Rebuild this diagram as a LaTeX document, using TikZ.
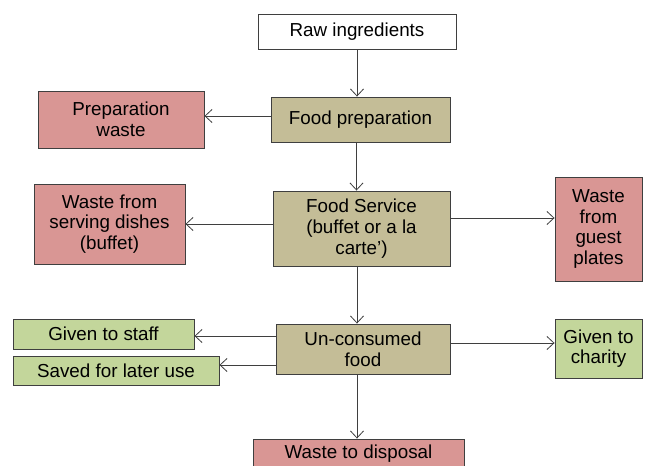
\documentclass[tikz,border=0pt]{standalone}
\usepackage{fontspec}
\setmainfont{Liberation Sans}
\usetikzlibrary{arrows.meta}

\definecolor{stagefill}{HTML}{C4BD97}
\definecolor{wastefill}{HTML}{D99694}
\definecolor{reusefill}{HTML}{C3D69B}
\definecolor{linegray}{HTML}{3F3F3F}

\begin{document}
\begin{tikzpicture}[
		x=1pt, y=-1pt,
		every node/.style={font=\fontsize{18.8}{20.7}\selectfont, align=center, inner sep=0pt},
		src/.style={draw=linegray, line width=0.9pt, fill=white},
		stage/.style={draw=linegray, line width=0.9pt, fill=stagefill},
		wastebox/.style={draw=linegray, line width=0.9pt, fill=wastefill},
		reuse/.style={draw=linegray, line width=0.9pt, fill=reusefill},
		flow/.style={draw=linegray, line width=1pt, -{Straight Barb[length=7pt, width=13pt, line width=0.8pt]}}
	]
		\fill[white] (0,0) rectangle (646,466);
		\clip (0,0) rectangle (646,466);

		\node[src, minimum width=198pt, minimum height=35pt] (raw) at (357, 31.5) {Raw ingredients};

		\node[stage, minimum width=179pt, minimum height=45pt] (prep) at (360.5, 119.5) {Food preparation};
		\node[wastebox, minimum width=166pt, minimum height=57pt] (pwaste) at (121, 119.5) {Preparation\\waste};

		\node[stage, minimum width=177pt, minimum height=75pt] (svc) at (361.5, 228.5) {Food Service\\(buffet or a la\\carte’)};
		\node[wastebox, minimum width=151pt, minimum height=80pt] (dish) at (109.5, 224) {Waste from\\serving dishes\\(buffet)};
		\node[wastebox, minimum width=87pt, minimum height=104pt] (guest) at (598.5, 229) {Waste\\from\\guest\\plates};

		\node[stage, minimum width=174pt, minimum height=50pt] (unc) at (363, 349) {Un-consumed\\food};
		\node[reuse, minimum width=181pt, minimum height=30pt] (staff) at (103.5, 334) {Given to staff};
		\node[reuse, minimum width=206pt, minimum height=29pt] (saved) at (116, 370.5) {Saved for later use};
		\node[reuse, minimum width=87pt, minimum height=59pt] (charity) at (598.5, 348.5) {Given to\\charity};

		\node[wastebox, minimum width=211pt, minimum height=30pt] (disp) at (358.5, 454) {Waste to disposal};

		% main line
		\draw[flow] (raw.south) -- (raw.south |- prep.north);
		\draw[flow] ([xshift=-4pt]prep.south) -- ([xshift=-4pt]prep.south |- svc.north);
		\draw[flow] ([xshift=-4.5pt]svc.south) -- ([xshift=-4.5pt]svc.south |- unc.north);
		\draw[flow] ([xshift=-6pt]unc.south) -- ([xshift=-6pt]unc.south |- disp.north);

		% side branches
		\draw[flow] ([yshift=3.5pt]prep.west) -- ([yshift=3.5pt]prep.west -| pwaste.east);
		\draw[flow] (svc.west |- dish) -- (dish.east);
		\draw[flow] ([yshift=10.5pt]svc.east) -- ([yshift=10.5pt]svc.east -| guest.west);
		\draw[flow] ([yshift=-2pt]unc.west |- staff) -- ([yshift=-2pt]staff.east);
		\draw[flow] ([yshift=5.5pt]unc.west |- saved) -- ([yshift=5.5pt]saved.east);
		\draw[flow] ([yshift=6pt]unc.east) -- ([yshift=6pt]unc.east -| charity.west);
	\end{tikzpicture}
\end{document}
